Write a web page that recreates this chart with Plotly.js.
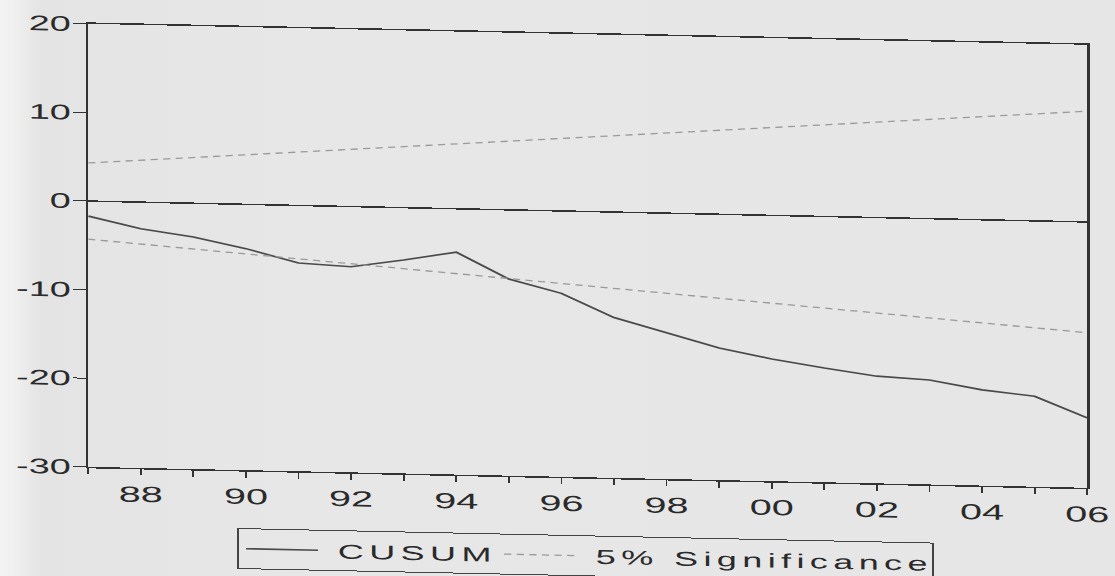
<!DOCTYPE html>
<html>
<head>
<meta charset="utf-8">
<script src="https://cdn.plot.ly/plotly-3.0.1.min.js"></script>
<style>
  html, body { margin: 0; padding: 0; width: 1115px; height: 576px; overflow: hidden; }
  body { background: linear-gradient(to right, #f3f3f3 0px, #f1f1f1 12px, #e4e4e4 40px, #e7e7e7 300px, #e6e6e6 100%); }
  #chart {
    position: absolute; left: 0; top: 0;
    width: 619px; height: 576px;
    transform-origin: 0 0;
    transform: skewY(1.2deg) scaleX(1.8);
  }
  .legendtext { letter-spacing: 3px; transform: translateX(6px); }
</style>
</head>
<body>
<div id="chart"></div>
<script>
// ---- data ----
const years = [1987,1988,1989,1990,1991,1992,1993,1994,1995,1996,1997,1998,1999,2000,2001,2002,2003,2004,2005,2006];
const cusum = [-1.7,-3.0,-3.8,-5.0,-6.5,-6.8,-5.9,-4.9,-7.8,-9.3,-11.9,-13.5,-15.1,-16.2,-17.1,-17.9,-18.2,-19.2,-19.8,-22.1];
const sigYears = [1987, 2006];
const sigUpper = [4.3, 12.5];
const sigLower = [-4.3, -12.5];
const xTickVals = [1988,1990,1992,1994,1996,1998,2000,2002,2004,2006];
const xTickText = ["88","90","92","94","96","98","00","02","04","06"];
const yTickVals = [-30,-20,-10,0,10,20];
const yTickText = ["-30","-20","-10","0","10","20"];
const seriesNames = ["CUSUM", "5% Significance"];

const axisColor = "#333333";
const fontFam = "Liberation Sans, Arial, sans-serif";

const traces = [
  {
    x: years, y: cusum, type: "scatter", mode: "lines", name: seriesNames[0],
    line: {color: "#4a4a4a", width: 1.6}
  },
  {
    x: sigYears, y: sigUpper, type: "scatter", mode: "lines", name: seriesNames[1],
    legendgroup: "sig",
    line: {color: "#9a9a9a", width: 1.3, dash: "4px,3px"}
  },
  {
    x: sigYears, y: sigLower, type: "scatter", mode: "lines", name: seriesNames[1],
    legendgroup: "sig", showlegend: false,
    line: {color: "#9a9a9a", width: 1.3, dash: "4px,3px"}
  }
];

const layout = {
  width: 619, height: 576,
  margin: {l: 49, r: 15, t: 22, b: 111, autoexpand: false},
  paper_bgcolor: "rgba(0,0,0,0)",
  plot_bgcolor: "rgba(0,0,0,0)",
  font: {family: fontFam, color: "#2a2a2a"},
  showlegend: true,
  xaxis: {
    range: [1987, 2006],
    showgrid: false, zeroline: false,
    showline: true, mirror: true, linecolor: axisColor, linewidth: 1.5,
    tickmode: "array", tickvals: xTickVals, ticktext: xTickText,
    ticks: "outside", ticklen: 6, tickwidth: 1, tickcolor: axisColor,
    minor: {dtick: 1, tick0: 1987, ticks: "outside", ticklen: 6, tickwidth: 1, tickcolor: axisColor, showgrid: false},
    tickfont: {size: 22, family: fontFam, color: "#2a2a2a"},
    ticklabelstandoff: 0
  },
  yaxis: {
    range: [-30, 20],
    showgrid: false,
    zeroline: true, zerolinecolor: axisColor, zerolinewidth: 1.5,
    showline: true, mirror: true, linecolor: axisColor, linewidth: 1.5,
    tickmode: "array", tickvals: yTickVals, ticktext: yTickText,
    ticks: "outside", ticklen: 7, tickwidth: 1, tickcolor: axisColor,
    tickfont: {size: 21, family: fontFam, color: "#2a2a2a"},
    ticklabelstandoff: -3
  },
  legend: {
    orientation: "h",
    x: 0.149, xanchor: "left",
    y: -0.131, yanchor: "top",
    bgcolor: "rgba(0,0,0,0)",
    bordercolor: "#444444", borderwidth: 1,
    font: {size: 20, family: fontFam, color: "#2a2a2a"},
    itemwidth: 40,
    tracegroupgap: 0
  }
};

Plotly.newPlot("chart", traces, layout, {staticPlot: true, displayModeBar: false});
</script>
</body>
</html>
